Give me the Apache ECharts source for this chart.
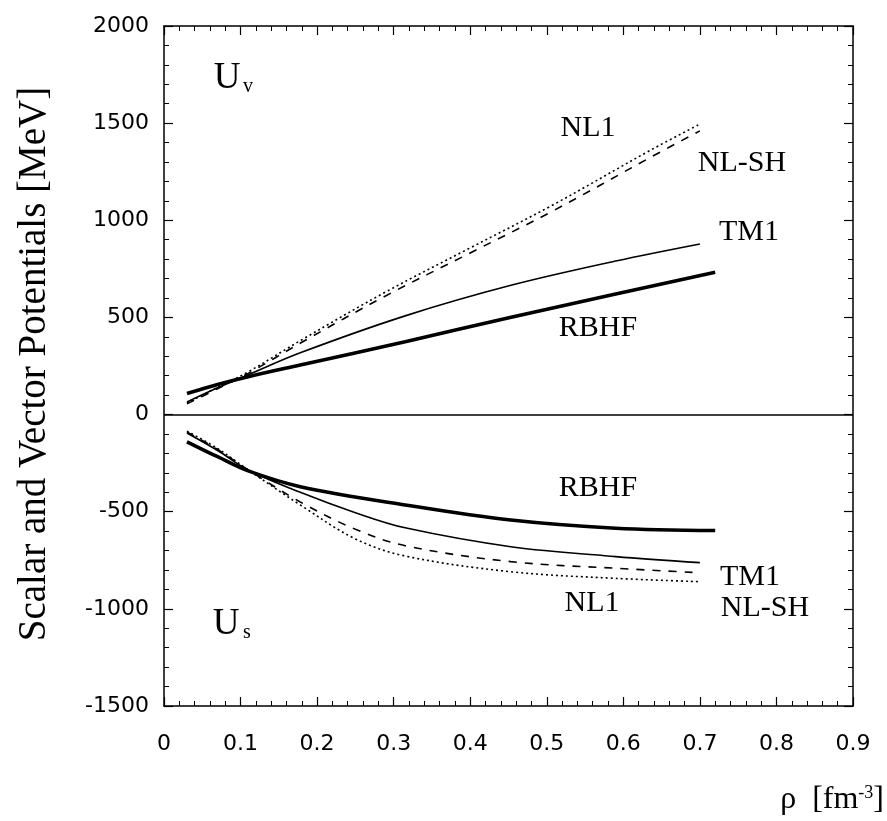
<!DOCTYPE html>
<html>
<head>
<meta charset="utf-8">
<script src="https://cdn.jsdelivr.net/npm/echarts@6/dist/echarts.min.js"></script>
<style>
  html, body { margin: 0; padding: 0; background: #fff; }
  #canvas { width: 887px; height: 821px; }
</style>
</head>
<body>
<div id="canvas"></div>
<script>
// vector potentials U_v  [rho, MeV]
var nl1Vector = [[0.03, 60], [0.07, 140], [0.11, 220], [0.18, 385], [0.29, 632], [0.40, 858], [0.508, 1079], [0.636, 1362], [0.70, 1495]];
var nlshVector = [[0.03, 55], [0.07, 133], [0.11, 212], [0.18, 372], [0.29, 612], [0.40, 832], [0.508, 1048], [0.636, 1325], [0.70, 1460]];
var tm1Vector = [[0.03, 65], [0.07, 138], [0.11, 205], [0.178, 318], [0.315, 508], [0.452, 664], [0.59, 790], [0.70, 878]];
var rbhfVector = [[0.03, 108], [0.07, 155], [0.11, 195], [0.178, 255], [0.315, 375], [0.452, 500], [0.59, 620], [0.72, 732]];

// scalar potentials U_s
var nl1Scalar = [[0.03, -85], [0.07, -175], [0.11, -285], [0.178, -465], [0.25, -640], [0.315, -728], [0.453, -809], [0.59, -843], [0.70, -860]];
var nlshScalar = [[0.03, -90], [0.07, -180], [0.11, -285], [0.178, -450], [0.25, -590], [0.315, -675], [0.453, -757], [0.59, -791], [0.70, -814]];
var tm1Scalar = [[0.03, -95], [0.07, -185], [0.11, -285], [0.178, -400], [0.25, -505], [0.315, -583], [0.453, -680], [0.59, -731], [0.70, -762]];
var rbhfScalar = [[0.03, -140], [0.07, -217], [0.11, -290], [0.178, -371], [0.315, -465], [0.453, -543], [0.59, -585], [0.72, -597]];

var xTicks = { min: 0, max: 0.9, interval: 0.1 };
var yTicks = { min: -1500, max: 2000, interval: 500 };

var serif = '"Liberation Serif", "DejaVu Serif", serif';
var sans = '"DejaVu Sans", sans-serif';

var myChart = echarts.init(document.getElementById('canvas'));

var axisCommon = function(showLabel, labelSize, margin) {
    return {
        axisLine: { show: true, onZero: false, lineStyle: { color: '#000', width: 1.5 } },
        axisTick: { show: true, inside: true, length: 9, lineStyle: { color: '#000', width: 1.2 } },
        minorTick: { show: true, splitNumber: 5, length: 5, lineStyle: { color: '#000', width: 1 } },
        splitLine: { show: false },
        axisLabel: {
            show: showLabel, color: '#000', fontFamily: sans, fontSize: labelSize, margin: margin,
            formatter: function(v) { return String(v); }
        }
    };
};

var curve = function(name, data, width, type) {
    return {
        name: name,
        type: 'line',
        data: data,
        smooth: 0.35,
        showSymbol: false,
        symbol: 'none',
        lineStyle: { color: '#000', width: width, type: type }
    };
};

var series = [
    curve('NL1', nl1Vector, 1.6, [2, 3]),
    curve('NL-SH', nlshVector, 1.6, [8, 8]),
    curve('TM1', tm1Vector, 1.6, 'solid'),
    curve('RBHF', rbhfVector, 3.6, 'solid'),
    curve('NL1', nl1Scalar, 1.6, [2, 3]),
    curve('NL-SH', nlshScalar, 1.6, [8, 8]),
    curve('TM1', tm1Scalar, 1.6, 'solid'),
    curve('RBHF', rbhfScalar, 3.6, 'solid')
];
// zero line
series[0].markLine = {
    silent: true,
    symbol: 'none',
    label: { show: false },
    lineStyle: { color: '#000', width: 1.6, type: 'solid' },
    data: [{ yAxis: 0 }]
};

var label = function(text, x, y, size) {
    return {
        type: 'text', x: x, y: y,
        style: { text: text, fill: '#000', font: size + 'px ' + serif, align: 'center', verticalAlign: 'middle' }
    };
};

var option = {
    animation: false,
    backgroundColor: '#fff',
    grid: { left: 164, top: 26, width: 689, height: 680 },
    xAxis: [
        Object.assign({ type: 'value', position: 'bottom' }, xTicks, axisCommon(true, 22, 27)),
        Object.assign({ type: 'value', position: 'top' }, xTicks, axisCommon(false, 22, 8))
    ],
    yAxis: [
        Object.assign({ type: 'value', position: 'left' }, yTicks, axisCommon(true, 22, 15)),
        Object.assign({ type: 'value', position: 'right' }, yTicks, axisCommon(false, 22, 8))
    ],
    series: series,
    graphic: [
        {
            type: 'text', x: 35, y: 364, rotation: Math.PI / 2,
            style: { text: 'Scalar and Vector Potentials [MeV]', fill: '#000', font: '39px ' + serif, align: 'center', verticalAlign: 'middle' }
        },
        {
            type: 'text', x: 884, y: 800,
            style: {
                text: '{a|ρ  [fm}{b|-3}{a|]}', align: 'right', verticalAlign: 'middle',
                rich: {
                    a: { fontSize: 32, fontFamily: serif, fill: '#000', color: '#000' },
                    b: { fontSize: 18, fontFamily: serif, fill: '#000', color: '#000', verticalAlign: 'top' }
                }
            }
        },
        label('U', 227, 78, 37),
        label('v', 248, 87, 20),
        label('U', 226, 624, 37),
        label('s', 247, 633, 20),
        label('NL1', 588, 128, 30),
        label('NL-SH', 742, 163, 30),
        label('TM1', 749, 232, 30),
        label('RBHF', 598, 328, 30),
        label('RBHF', 598, 488, 30),
        label('TM1', 750, 577, 30),
        label('NL-SH', 765, 608, 30),
        label('NL1', 592, 603, 30)
    ]
};
myChart.setOption(option);
</script>
</body>
</html>
